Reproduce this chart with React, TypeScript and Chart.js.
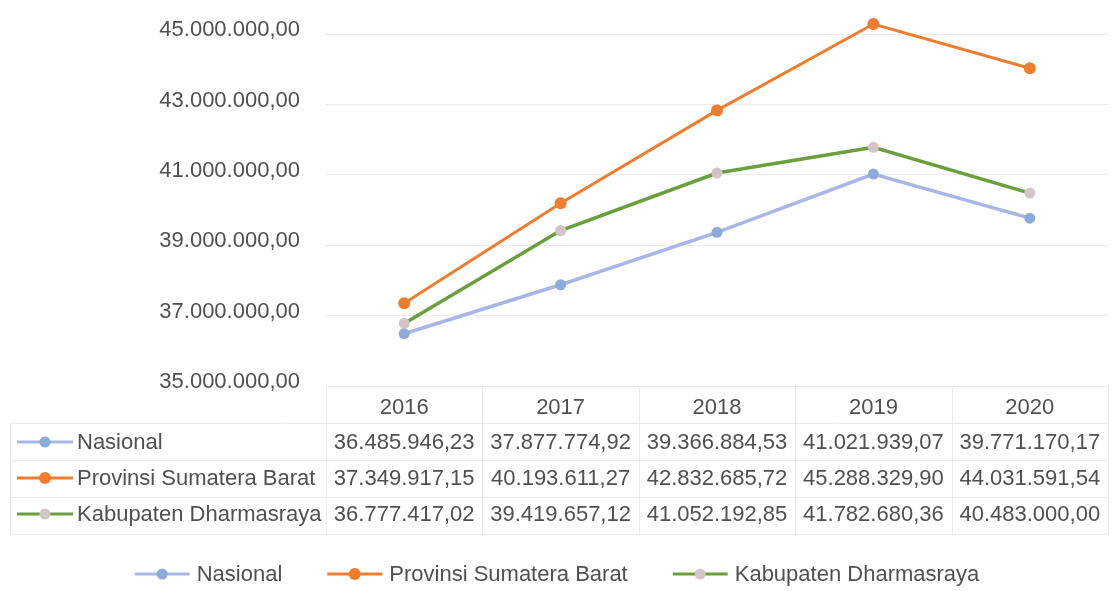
import React, { useEffect, useRef } from "react";
import { Chart, registerables } from "chart.js";

Chart.register(...registerables);

const years = ["2016", "2017", "2018", "2019", "2020"];
const seriesNames = ["Nasional", "Provinsi Sumatera Barat", "Kabupaten Dharmasraya"];
const nasional = [36485946.23, 37877774.92, 39366884.53, 41021939.07, 39771170.17];
const provinsi = [37349917.15, 40193611.27, 42832685.72, 45288329.9, 44031591.54];
const kabupaten = [36777417.02, 39419657.12, 41052192.85, 41782680.36, 40483000.0];
const yTicks = [35000000, 37000000, 39000000, 41000000, 43000000, 45000000];
const yMin = 35000000;
const yMax = 45800000;

const lineColors = ["#a7b6e4", "#ed7d31", "#6a9f3e"];
const markerColors = ["#8eaad9", "#ed7d31", "#d3c5c7"];

const FONT = '"Liberation Sans", Arial, sans-serif';
const TEXT = "#505050";

function fmt(v: number): string {
  const neg = v < 0;
  const abs = Math.abs(v);
  const fixed = abs.toFixed(2);
  const [intPart, dec] = fixed.split(".");
  const withSep = intPart.replace(/\B(?=(\d{3})+(?!\d))/g, ".");
  return (neg ? "-" : "") + withSep + "," + dec;
}

function drawMarker(ctx: CanvasRenderingContext2D, x0: number, x1: number, y: number, i: number) {
  ctx.save();
  ctx.strokeStyle = lineColors[i];
  ctx.lineWidth = 3;
  ctx.beginPath();
  ctx.moveTo(x0, y);
  ctx.lineTo(x1, y);
  ctx.stroke();
  ctx.fillStyle = markerColors[i];
  ctx.beginPath();
  ctx.arc((x0 + x1) / 2, y, i === 1 ? 6 : 5.5, 0, Math.PI * 2);
  ctx.fill();
  ctx.restore();
}

const tablePlugin = {
  id: "dataTableAndLegend",
  afterDraw(chart: any) {
    const { ctx, chartArea, scales } = chart;
    const xs = scales.x;
    const b = chartArea.bottom;
    const seriesData = [nasional, provinsi, kabupaten];
    const band = xs.getPixelForValue(1) - xs.getPixelForValue(0);
    ctx.save();
    // table lines
    ctx.strokeStyle = "#ebebeb";
    ctx.lineWidth = 1;
    const rowLines = [b + 37, b + 74, b + 111, b + 148];
    rowLines.forEach((y) => {
      ctx.beginPath();
      ctx.moveTo(10, y + 0.5);
      ctx.lineTo(chartArea.right, y + 0.5);
      ctx.stroke();
    });
    for (let i = 0; i <= years.length; i++) {
      const xb = Math.round(xs.getPixelForValue(0) - band / 2 + band * i) + 0.5;
      ctx.beginPath();
      ctx.moveTo(xb, b);
      ctx.lineTo(xb, b + 148);
      ctx.stroke();
    }
    ctx.beginPath();
    ctx.moveTo(10.5, b + 37);
    ctx.lineTo(10.5, b + 148);
    ctx.stroke();

    ctx.font = "22px " + FONT;
    ctx.fillStyle = TEXT;
    ctx.textBaseline = "middle";
    const rowCenters = [b + 56, b + 92, b + 128];
    seriesNames.forEach((name, r) => {
      const y = rowCenters[r];
      drawMarker(ctx, 17, 73, y, r);
      ctx.fillStyle = TEXT;
      ctx.textAlign = "left";
      ctx.fillText(name, 77, y + 1);
      ctx.textAlign = "center";
      seriesData[r].forEach((v, c) => {
        ctx.fillText(fmt(v), xs.getPixelForValue(c), y + 1);
      });
    });

    // legend
    const ly = b + 188;
    const lineLen = 55;
    const gapText = 7;
    const gapItem = 45;
    const widths = seriesNames.map((n) => ctx.measureText(n).width);
    const total = widths.reduce((s, w) => s + lineLen + gapText + w, 0) + gapItem * (seriesNames.length - 1);
    let lx = chart.width / 2 - total / 2;
    seriesNames.forEach((n, i) => {
      drawMarker(ctx, lx, lx + lineLen, ly, i);
      ctx.fillStyle = TEXT;
      ctx.textAlign = "left";
      ctx.fillText(n, lx + lineLen + gapText, ly + 1);
      lx += lineLen + gapText + widths[i] + gapItem;
    });
    ctx.restore();
  },
};

export default function App() {
  const ref = useRef<HTMLCanvasElement | null>(null);
  useEffect(() => {
    if (!ref.current) return;
    const datasets = [nasional, provinsi, kabupaten].map((d, i) => ({
      label: seriesNames[i],
      data: d,
      borderColor: lineColors[i],
      backgroundColor: markerColors[i],
      pointBackgroundColor: markerColors[i],
      pointBorderColor: markerColors[i],
      pointBorderWidth: 0,
      pointRadius: i === 1 ? 6 : 5.5,
      borderWidth: i === 1 ? 3 : 3.5,
      tension: 0,
      fill: false,
      clip: false as any,
    }));
    const chart = new Chart(ref.current, {
      type: "line",
      data: { labels: years, datasets },
      plugins: [tablePlugin],
      options: {
        animation: false,
        responsive: false,
        devicePixelRatio: 1,
        layout: { padding: { top: 5, right: -2, bottom: 0, left: 0 } },
        plugins: { legend: { display: false }, tooltip: { enabled: false } },
        scales: {
          x: {
            type: "category",
            offset: true,
            grid: { display: false, drawTicks: false },
            border: { display: false },
            ticks: { color: TEXT, font: { size: 22, family: FONT }, padding: 9, maxRotation: 0 },
            afterFit: (scale: any) => {
              scale.height = 205;
              scale.paddingLeft = 0;
              scale.paddingRight = 0;
            },
          },
          y: {
            min: yMin,
            max: yMax,
            grid: { color: "#ececec", drawTicks: false, lineWidth: 1 },
            border: { display: false },
            afterBuildTicks: (axis: any) => {
              axis.ticks = yTicks.map((v) => ({ value: v }));
            },
            afterFit: (scale: any) => {
              scale.width = 326;
              scale.paddingTop = 0;
              scale.paddingBottom = 0;
            },
            ticks: {
              color: TEXT,
              font: { size: 22, family: FONT },
              padding: 26,
              labelOffset: -4,
              callback: (v: any) => fmt(Number(v)),
            },
          },
        },
      },
    });
    return () => chart.destroy();
  }, []);
  return (
    <div style={{ position: "fixed", left: 0, top: 0, width: 1114, height: 591, background: "#fff", overflow: "hidden" }}>
      <canvas ref={ref} width={1114} height={591} style={{ display: "block" }} />
    </div>
  );
}
